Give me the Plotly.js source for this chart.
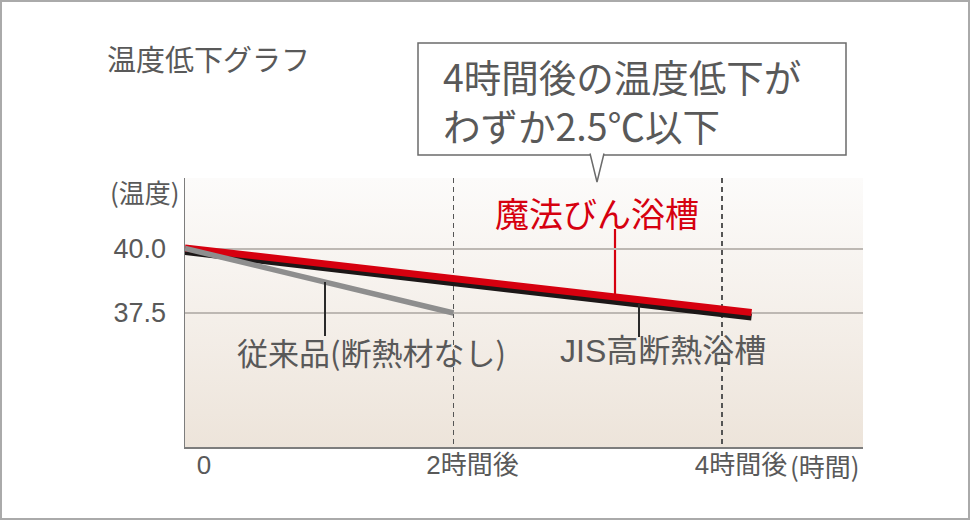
<!DOCTYPE html>
<html>
<head>
<meta charset="utf-8">
<script src="https://cdn.plot.ly/plotly-3.0.1.min.js"></script>
<style>
  html, body { margin: 0; padding: 0; background: #fff; }
  #wrap { position: relative; width: 970px; height: 520px; }
  #chart { width: 970px; height: 520px; }
  #frame { position: absolute; left: 0; top: 0; width: 970px; height: 520px;
           box-sizing: border-box; border: 2px solid #aaaaaa; pointer-events: none; }
</style>
</head>
<body>
<div id="wrap">
  <div id="chart"></div>
  <div id="frame"></div>
</div>
<script>
// ---- data ----
const hours = [0, 4.22];                 // elapsed time (h)
const magicBath = [40.04, 37.52];        // 魔法びん浴槽 (°C)
const jisBath = [39.90, 37.34];          // JIS高断熱浴槽 (°C)
const convHours = [0, 2];
const conventional = [40.02, 37.50];     // 従来品（断熱材なし） (°C)

const xTickVals = [0, 2, 4];
const xTickText = ['0', '2時間後', '4時間後'];
const yTickVals = [37.5, 40];
const yTickText = ['37.5', '40.0'];

const seriesNames = ['JIS高断熱浴槽', '魔法びん浴槽', '従来品(断熱材なし)'];
const chartTitle = '温度低下グラフ';
const yUnit = '(温度)';
const xUnit = '(時間)';
const calloutLines = ['4時間後の温度低下が', 'わずか2.5℃以下'];

// ---- geometry ----
const W = 970, H = 520;
const M = { l: 185, r: 107, t: 178, b: 73 };
const PW = W - M.l - M.r, PH = H - M.t - M.b;
const XR = [0, 5.05];
const YR = [32.27, 42.77];
const px = p => (p - M.l) / PW;            // pixel x -> paper
const py = p => 1 - (p - M.t) / PH;        // pixel y -> paper
const hx = p => XR[0] + (p - M.l) / PW * (XR[1] - XR[0]);   // pixel x -> hours
const vy = p => YR[1] - (p - M.t) / PH * (YR[1] - YR[0]);   // pixel y -> °C
function valueAt(xs, ys, x) {
  for (let i = 0; i < xs.length - 1; i++) {
    if (x >= xs[i] && x <= xs[i + 1]) {
      const t = (x - xs[i]) / (xs[i + 1] - xs[i]);
      return ys[i] + t * (ys[i + 1] - ys[i]);
    }
  }
  return ys[ys.length - 1];
}

const RED = '#d6000f', TXT = '#595959';
const JP = '"Noto Sans CJK JP", "Noto Sans", sans-serif';
const NUM = '"Liberation Sans", "Noto Sans CJK JP", sans-serif';

const traces = [
  { x: hours, y: jisBath, name: seriesNames[0], mode: 'lines',
    line: { color: '#1c1717', width: 7 }, hoverinfo: 'skip' },
  { x: hours, y: magicBath, name: seriesNames[1], mode: 'lines',
    line: { color: RED, width: 7 }, hoverinfo: 'skip' },
  { x: convHours, y: conventional, name: seriesNames[2], mode: 'lines',
    line: { color: '#8e8e8e', width: 5.5 }, hoverinfo: 'skip' }
];

// gradient background for the plot area
const gradSvg = '<svg xmlns="http://www.w3.org/2000/svg" width="10" height="100" preserveAspectRatio="none">' +
  '<defs><linearGradient id="g" x1="0" y1="0" x2="0" y2="1">' +
  '<stop offset="0" stop-color="#fcfbfa"/><stop offset="1" stop-color="#ede4da"/>' +
  '</linearGradient></defs><rect width="10" height="100" fill="url(#g)"/></svg>';

// leader lines: from label to the series line
const redLeadX = hx(615), grayLeadX = hx(325), jisLeadX = hx(639);

const shapes = [
  // callout box
  { type: 'rect', xref: 'paper', yref: 'paper', x0: px(418), x1: px(846), y0: py(155), y1: py(43),
    line: { color: '#6b6b6b', width: 1.5 }, fillcolor: '#ffffff', layer: 'above' },
  // callout pointer
  { type: 'path', xref: 'paper', yref: 'paper',
    path: `M${px(590)},${py(153.5)} L${px(597)},${py(182)} L${px(604)},${py(153.5)}`,
    line: { color: '#6b6b6b', width: 1.5 }, fillcolor: '#ffffff', layer: 'above' },
  // leaders
  { type: 'line', xref: 'x', yref: 'y', x0: redLeadX, x1: redLeadX,
    y0: vy(229), y1: valueAt(hours, magicBath, redLeadX),
    line: { color: RED, width: 2.2 }, layer: 'below' },
  { type: 'line', xref: 'x', yref: 'y', x0: grayLeadX, x1: grayLeadX,
    y0: valueAt(convHours, conventional, grayLeadX), y1: vy(336),
    line: { color: '#2a2a2a', width: 2 }, layer: 'above' },
  { type: 'line', xref: 'x', yref: 'y', x0: jisLeadX, x1: jisLeadX,
    y0: valueAt(hours, jisBath, jisLeadX), y1: vy(337),
    line: { color: '#2a2a2a', width: 2 }, layer: 'above' }
];

const ann = (text, x, y, size, opts) => Object.assign({
  text, xref: 'paper', yref: 'paper', x: px(x), y: py(y), xanchor: 'left', yanchor: 'middle',
  showarrow: false, font: { family: JP, size, color: TXT }
}, opts || {});

const annotations = [
  ann(chartTitle, 105, 58, 29),
  ann(yUnit, 108, 191, 26),
  ann(calloutLines.join('<br>'), 441, 100, 37.5, { align: 'left' }),
  ann(seriesNames[1], 597, 212, 34, { xanchor: 'center', font: { family: JP, size: 34, color: RED } }),
  ann(seriesNames[2], 235, 351, 31),
  ann(seriesNames[0], 558, 351, 32, { font: { family: NUM, size: 32, color: TXT } }),
  ann(xUnit, 788, 465, 26)
];

const layout = {
  width: W, height: H, margin: M,
  paper_bgcolor: '#ffffff', plot_bgcolor: 'rgba(0,0,0,0)',
  showlegend: false,
  images: [{ source: 'data:image/svg+xml;utf8,' + encodeURIComponent(gradSvg),
    xref: 'paper', yref: 'paper', x: 0, y: 1, sizex: 1, sizey: 1,
    xanchor: 'left', yanchor: 'top', sizing: 'stretch', layer: 'below' }],
  xaxis: {
    range: XR, tickmode: 'array', tickvals: xTickVals, ticktext: xTickText,
    showgrid: true, griddash: '5px,4px', gridcolor: '#555555', gridwidth: 1.5,
    zeroline: false, showline: true, linecolor: '#7d7d7d', linewidth: 2,
    ticks: '', ticklabelshift: 19, ticklabelstandoff: -6,
    tickfont: { family: NUM, size: 26, color: TXT }, fixedrange: true
  },
  yaxis: {
    range: YR, tickmode: 'array', tickvals: yTickVals, ticktext: yTickText,
    showgrid: true, gridcolor: '#bdb8b3', gridwidth: 1.5,
    zeroline: false, showline: true, linecolor: '#7d7d7d', linewidth: 1.5,
    ticks: '', ticklabelstandoff: 12,
    tickfont: { family: NUM, size: 27, color: TXT }, fixedrange: true
  },
  shapes, annotations
};

Plotly.newPlot('chart', traces, layout, { staticPlot: true, displayModeBar: false });
</script>
</body>
</html>
